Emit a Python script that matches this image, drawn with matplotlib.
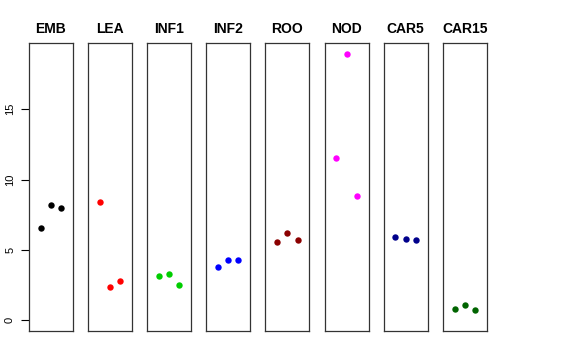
import matplotlib
matplotlib.use("Agg")
import matplotlib.pyplot as plt
import numpy as np

plt.rcParams['font.family'] = ['Liberation Sans', 'DejaVu Sans']

# tissues and replicate values
tissues = ["EMB", "LEA", "INF1", "INF2", "ROO", "NOD", "CAR5", "CAR15"]
colors = ["black", "red", "#00CD00", "blue", "#8B0000", "magenta", "#00008B", "#006400"]
emb = [6.55, 8.19, 7.95]
lea = [8.38, 2.36, 2.83]
inf1 = [3.14, 3.31, 2.48]
inf2 = [3.79, 4.29, 4.26]
roo = [5.59, 6.18, 5.71]
nod = [11.52, 18.95, 8.86]
car5 = [5.90, 5.81, 5.74]
car15 = [0.83, 1.07, 0.71]
values = [emb, lea, inf1, inf2, roo, nod, car5, car15]

ymax = max(max(v) for v in values)
pad = 0.04 * ymax

fig = plt.figure(figsize=(5.76, 3.6), dpi=100)
W, H = 576.0, 360.0
for i, (name, col, vals) in enumerate(zip(tissues, colors, values)):
    left = 29 + i * 59.1
    ax = fig.add_axes([left / W, (H - 331) / H, 44 / W, 288 / H])
    ax.plot([1, 2, 3], vals, "o", color=col, markersize=4.6, markeredgewidth=0)
    ax.set_xlim(-0.16, 4.16)
    ax.set_ylim(-pad, ymax + pad)
    ax.set_xticks([])
    for s in ax.spines.values():
        s.set_color("#333333")
        s.set_linewidth(0.9)
    ax.set_title(name, fontsize=10, fontweight="bold", pad=7)
    if i == 0:
        ax.set_yticks([0, 5, 10, 15])
        ax.set_yticklabels(["0", "5", "10", "15"], rotation=90, va="center", fontsize=8)
        ax.tick_params(axis="y", length=6, width=0.8, pad=4)
    else:
        ax.set_yticks([])

fig.savefig("out.png", dpi=100)
